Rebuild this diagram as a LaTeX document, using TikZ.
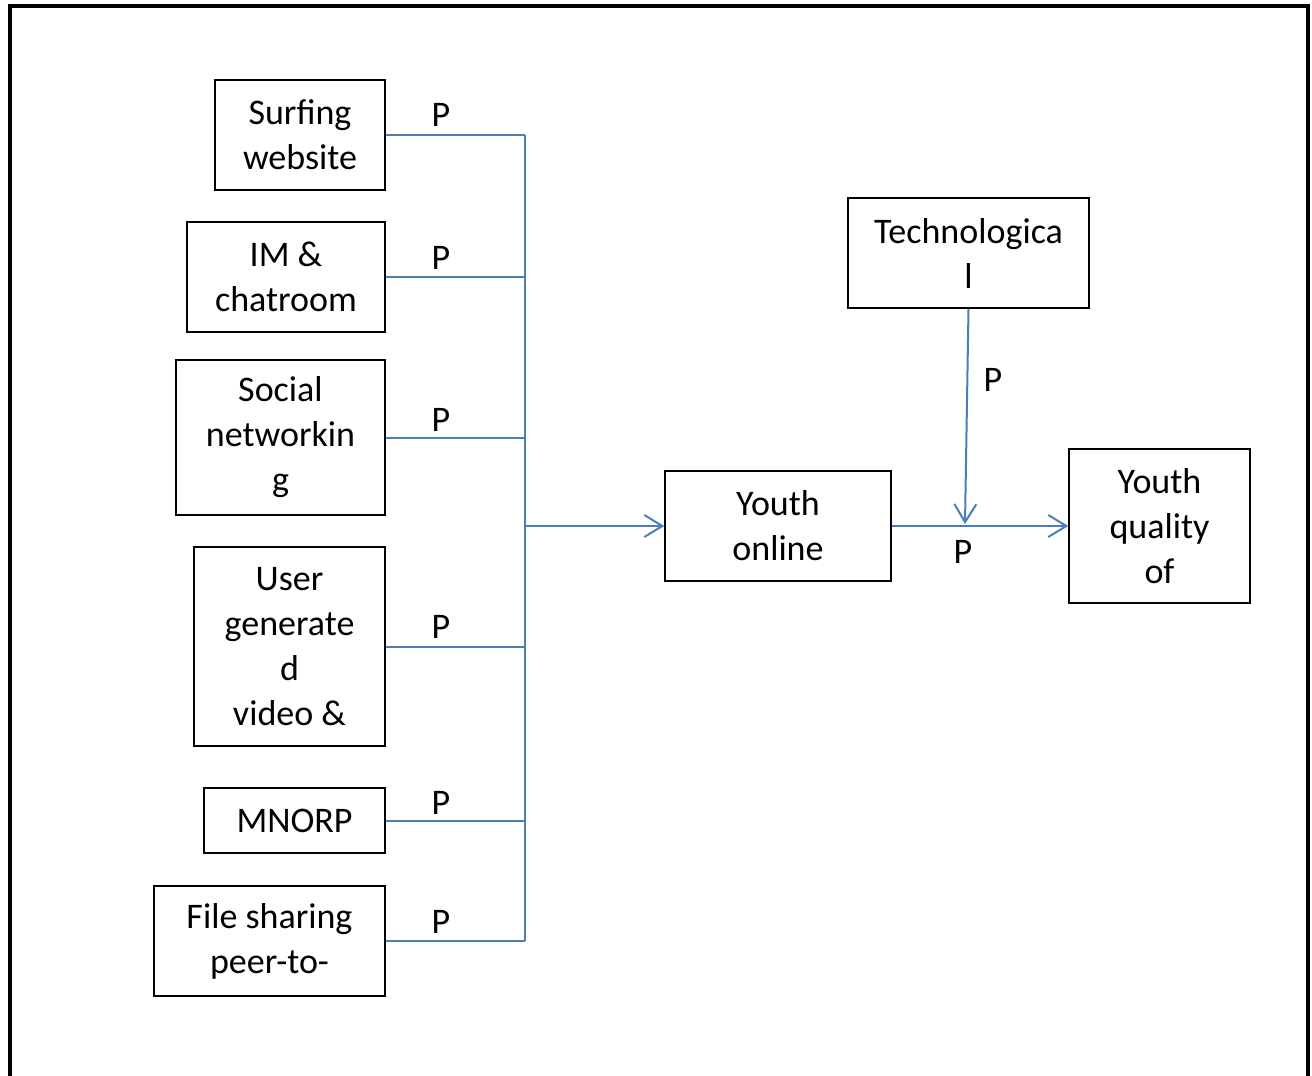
\documentclass[tikz,border=0pt]{standalone}
\usepackage{fontspec}
\setmainfont{Carlito}
\usetikzlibrary{arrows.meta}
\definecolor{lineblue}{HTML}{4A7EBB}
\begin{document}
\begin{tikzpicture}[x=1pt,y=-1pt,
  box/.style={draw=black,line width=1.5pt,inner sep=0pt,align=center,
    font=\fontsize{36}{45}\selectfont},
  lbl/.style={inner sep=0pt,font=\fontsize{36}{45}\selectfont},
  conn/.style={draw=lineblue,line width=2pt},
  arr/.style={conn,-{Straight Barb[length=18pt,width=22pt,line width=2pt]}}]
\useasboundingbox (0,0) rectangle (1312,1076);
% outer frame (open at the bottom)
\draw[line width=4pt] (10,1080) -- (10,6) -- (1308,6) -- (1308,1080);
% left boxes
\node[box,minimum width=170pt,minimum height=110pt] (s1) at (300,135) {Surfing\\website};
\node[box,minimum width=198pt,minimum height=110pt] (s2) at (286,277) {IM \&\\chatroom};
\node[box,minimum width=209pt,minimum height=155pt] (s3) at (280.5,437.5) {Social\\networkin\\g};
\node[box,minimum width=191pt,minimum height=199pt] (s4) at (289.5,646.5) {User\\generate\\d\\video \&};
\node[box,minimum width=181pt,minimum height=65pt] (s5) at (294.5,820.5) {MNORP};
\node[box,minimum width=231pt,minimum height=110pt] (s6) at (269.5,941) {File sharing\\peer-to-};
% right boxes
\node[box,minimum width=226pt,minimum height=110pt] (yo) at (778,526) {Youth\\online};
\node[box,minimum width=241pt,minimum height=110pt] (tech) at (968.5,253) {Technologica\\l};
\node[box,minimum width=181pt,minimum height=154pt] (yq) at (1159.5,526) {Youth\\quality\\of};
% bus
\coordinate (busx) at (525,0);
\foreach \n in {s1,s2,s3,s4,s5,s6}{
  \draw[conn] (\n.east) -- (\n.east -| busx);
}
\draw[conn] (s1.east -| busx) -- (s6.east -| busx);
\draw[arr] (yo.west -| busx) -- (yo.west);
% right side connectors
\coordinate (jn) at (965,524);
\draw[arr] (tech.south) -- (jn);
\draw[arr] (yo.east) -- (yq.west);
% P labels
\node[lbl] (p1) at (441,115) {P};
\node[lbl] (p2) at (441,258) {P};
\node[lbl] (p3) at (441,420) {P};
\node[lbl] (p4) at (441,627) {P};
\node[lbl] (p5) at (441,803) {P};
\node[lbl] (p6) at (441,922) {P};
\node[lbl] (p7) at (993,380) {P};
\node[lbl] (p8) at (963,552) {P};
\end{tikzpicture}
\end{document}
